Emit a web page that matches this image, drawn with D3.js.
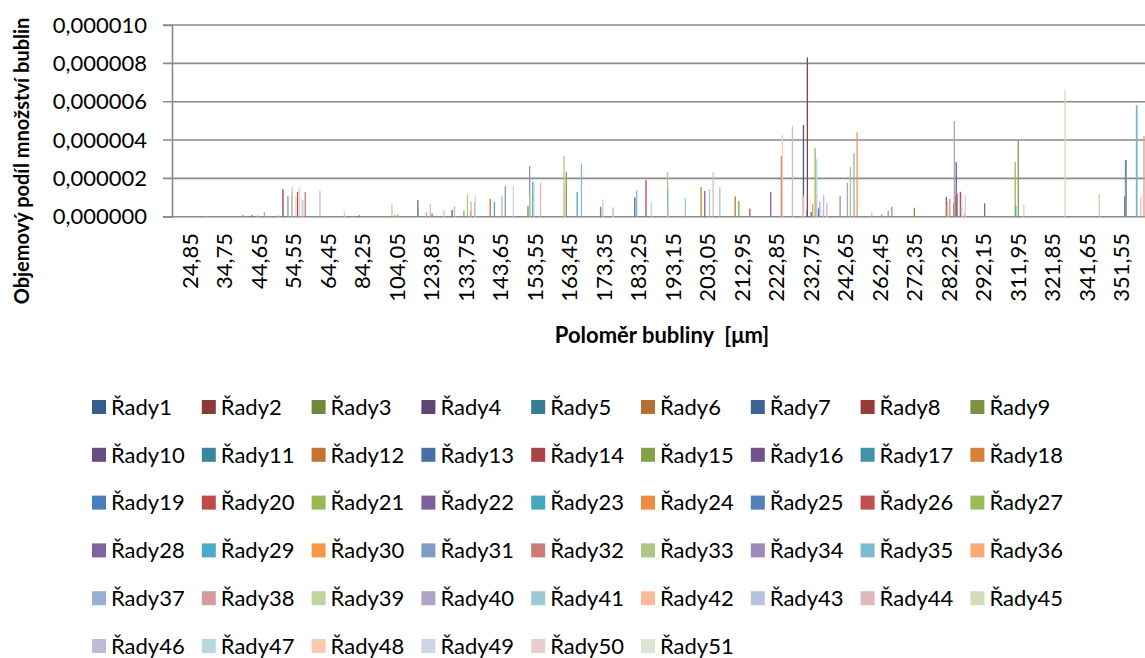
<!DOCTYPE html>
<html>
<head>
<meta charset="utf-8">
<script src="https://cdn.jsdelivr.net/npm/d3@7"></script>
<style>
  body { margin: 0; background: #fff; }
  text { font-family: Lato, "Open Sans", sans-serif; fill: #000; }
</style>
</head>
<body>
<div id="my_dataviz"></div>
<script>
// radius labels shown on the category axis (one every 10 bins)
var tickLabels = ["24,85", "34,75", "44,65", "54,55", "64,45", "84,25", "104,05", "123,85",
    "133,75", "143,65", "153,55", "163,45", "173,35", "183,25", "193,15", "203,05", "212,95",
    "222,85", "232,75", "242,65", "262,45", "272,35", "282,25", "292,15", "311,95", "321,85",
    "341,65", "351,55"];
var binsPerLabel = 10;
// the axis runs on past the right edge of the picture
var categories = d3.range(290);

var yTicks = [0, 0.000002, 0.000004, 0.000006, 0.000008, 0.00001];

var seriesNames = d3.range(1, 52).map(function (i) { return "Řady" + i; });
var seriesColors = [
    "#385D8A", "#8C3836", "#71893F", "#5C4776", "#357D91", "#B66D31",
    "#3C6494", "#953B3A", "#7A9241", "#664E82", "#3A879C", "#C3742F",
    "#4670A5", "#A64542", "#84A348", "#70538C", "#4095AB", "#D6813A",
    "#4A7EBB", "#BE4B48", "#98B954", "#7D5FA0", "#46A5C0", "#F08C42",
    "#4F81BD", "#C0504D", "#9BBB59", "#8064A2", "#4BACC6", "#F79646",
    "#7F9CC9", "#CB7B79", "#AFC686", "#9D8AB7", "#7DBBD0", "#F8AB75",
    "#9AAFD4", "#D59C9A", "#C0D3A1", "#B1A3C6", "#9DC9D7", "#F9BB98",
    "#B5C3DF", "#DFB9B8", "#CFDEB9", "#C2B9D4", "#B6D6E1", "#F9C9B0",
    "#CCD5E7", "#E7CECD", "#DBE5CF"];

// [series number, category bin, value]
var bars = [
    [45, 9, 0.05e-6], [31, 20, 0.10e-6], [14, 23, 0.08e-6], [39, 24, 0.08e-6], [40, 26, 0.23e-6],
    [39, 30, 0.10e-6], [8, 32, 1.43e-6], [31, 33, 1.08e-6], [36, 34, 1.13e-6], [43, 34, 1.53e-6],
    [49, 35, 1.04e-6], [20, 36, 1.30e-6], [48, 36, 1.53e-6], [40, 37, 0.90e-6], [49, 37, 0.87e-6],
    [32, 38, 1.29e-6], [46, 42, 1.34e-6], [50, 49, 0.30e-6], [14, 54, 0.07e-6], [39, 63, 0.66e-6],
    [30, 64, 0.10e-6], [24, 65, 0.12e-6], [13, 71, 0.87e-6], [15, 71, 0.43e-6], [38, 73, 0.23e-6],
    [44, 74, 0.66e-6], [19, 75, 0.17e-6], [42, 78, 0.35e-6], [10, 81, 0.35e-6], [46, 81, 0.56e-6],
    [31, 84, 0.31e-6], [33, 85, 1.13e-6], [27, 86, 0.31e-6], [36, 86, 0.78e-6], [40, 87, 0.78e-6],
    [49, 87, 1.13e-6], [12, 92, 0.92e-6], [23, 93, 0.78e-6], [33, 95, 1.08e-6], [31, 96, 1.60e-6],
    [49, 98, 1.60e-6], [9, 103, 0.56e-6], [34, 103, 2.64e-6], [39, 103, 1.18e-6], [29, 104, 1.83e-6],
    [47, 104, 1.83e-6], [44, 106, 1.77e-6], [33, 113, 3.17e-6], [40, 113, 1.65e-6], [48, 113, 2.00e-6],
    [15, 114, 2.35e-6], [23, 117, 1.30e-6], [35, 118, 2.78e-6], [11, 124, 0.52e-6], [12, 124, 0.40e-6],
    [47, 124, 0.90e-6], [41, 127, 0.47e-6], [50, 127, 0.49e-6], [7, 134, 1.00e-6], [35, 134, 1.36e-6],
    [20, 137, 1.91e-6], [47, 138, 0.78e-6], [33, 143, 2.33e-6], [35, 143, 1.53e-6], [42, 143, 0.57e-6],
    [41, 148, 0.97e-6], [18, 153, 1.55e-6], [22, 154, 1.34e-6], [41, 155, 1.43e-6], [44, 156, 2.31e-6],
    [41, 158, 1.53e-6], [12, 163, 1.06e-6], [15, 164, 0.82e-6], [26, 167, 0.42e-6], [28, 173, 1.30e-6],
    [32, 176, 3.17e-6], [48, 176, 4.26e-6], [43, 179, 4.73e-6], [44, 182, 1.18e-6], [50, 182, 1.04e-6],
    [1, 183, 4.78e-6], [5, 184, 0.35e-6], [8, 184, 8.31e-6], [13, 185, 0.24e-6], [38, 185, 0.66e-6],
    [36, 186, 1.13e-6], [21, 186, 3.57e-6], [47, 186, 3.00e-6], [19, 187, 0.43e-6], [40, 187, 0.77e-6],
    [39, 188, 0.35e-6], [46, 188, 1.13e-6], [43, 189, 0.71e-6], [48, 189, 0.31e-6], [34, 193, 1.08e-6],
    [40, 195, 1.77e-6], [33, 196, 2.59e-6], [35, 197, 3.32e-6], [43, 197, 0.87e-6], [30, 198, 4.40e-6],
    [44, 202, 0.20e-6], [38, 205, 0.14e-6], [31, 207, 0.30e-6], [34, 208, 0.52e-6], [9, 215, 0.47e-6],
    [22, 224, 1.03e-6], [38, 224, 0.64e-6], [42, 224, 0.78e-6], [24, 225, 0.92e-6], [29, 226, 0.70e-6],
    [40, 226, 4.99e-6], [12, 227, 1.08e-6], [16, 227, 2.85e-6], [32, 227, 1.22e-6], [26, 228, 1.30e-6],
    [44, 228, 0.60e-6], [49, 228, 1.25e-6], [38, 229, 0.17e-6], [49, 229, 1.11e-6], [50, 229, 0.24e-6],
    [28, 235, 0.70e-6], [21, 244, 2.85e-6], [29, 244, 0.57e-6], [15, 245, 4.00e-6], [48, 246, 0.66e-6],
    [45, 258, 6.61e-6], [39, 268, 1.18e-6], [10, 276, 1.06e-6], [31, 276, 2.96e-6], [19, 276, 2.94e-6],
    [27, 276, 1.81e-6], [29, 279, 5.81e-6], [35, 279, 5.81e-6], [42, 280, 1.04e-6], [38, 281, 4.21e-6]
];

var width = 1145, height = 658;
var plot = { left: 172, top: 25, bottom: 216.7, binWidth: 3.45 };

var svg = d3.select("#my_dataviz")
    .append("svg")
    .attr("width", width)
    .attr("height", height)
    .style("display", "block");

var x = d3.scaleBand()
    .domain(categories)
    .range([plot.left, plot.left + categories.length * plot.binWidth]);

// 51 series side by side inside each bin, gap width 150 %
var xSeries = d3.scaleBand()
    .domain(d3.range(1, 52))
    .range([0, x.bandwidth()])
    .paddingOuter(0.75);

var y = d3.scaleLinear().domain([0, 0.00001]).range([plot.bottom, plot.top]);

// gridlines
svg.append("g")
    .selectAll("line")
    .data(yTicks)
    .enter()
    .append("line")
    .attr("x1", plot.left - 9)
    .attr("x2", width)
    .attr("y1", function (d) { return y(d); })
    .attr("y2", function (d) { return y(d); })
    .style("stroke", "#8a8a8a")
    .style("stroke-width", 1.6);

var yAxis = d3.axisLeft(y)
    .tickValues(yTicks)
    .tickSize(9)
    .tickPadding(16)
    .tickFormat(function (d) { return d3.format(".6f")(d).replace(".", ","); });

var gy = svg.append("g")
    .attr("transform", "translate(" + plot.left + ",0)")
    .call(yAxis);
gy.select(".domain").style("stroke", "#8a8a8a").style("stroke-width", 1.6);
gy.selectAll(".tick line").remove();
gy.selectAll("text").style("font-size", "22px").style("font-family", "Lato, sans-serif");

// bars, series in drawing order
bars.sort(function (a, b) { return a[0] - b[0]; });
svg.append("g")
    .selectAll(".bar")
    .data(bars)
    .enter()
    .append("rect")
    .attr("class", "bar")
    .attr("x", function (d) { return x(d[1]) + xSeries(d[0]) - 0.6; })
    .attr("y", function (d) { return y(d[2]); })
    .attr("width", 1.3)
    .attr("height", function (d) { return plot.bottom - y(d[2]); })
    .style("fill", function (d) { return seriesColors[d[0] - 1]; });

// category labels, one per group of 10 bins
svg.append("g")
    .selectAll("text")
    .data(tickLabels)
    .enter()
    .append("text")
    .attr("transform", function (d, i) {
        var cx = x(categories[i * binsPerLabel]) + binsPerLabel / 2 * x.bandwidth() + 1;
        return "translate(" + cx + ",233) rotate(-90)";
    })
    .attr("dy", "0.35em")
    .attr("text-anchor", "end")
    .style("font-size", "22px")
    .text(function (d) { return d; });

svg.append("text")
    .attr("x", 662)
    .attr("y", 335)
    .attr("dy", "0.35em")
    .attr("text-anchor", "middle")
    .style("font-size", "22px")
    .style("font-weight", "bold")
    .style("white-space", "pre")
    .text("Poloměr bubliny  [μm]");

svg.append("text")
    .attr("transform", "translate(22,161) rotate(-90)")
    .attr("dy", "0.35em")
    .attr("text-anchor", "middle")
    .style("font-size", "20px")
    .style("font-weight", "bold")
    .text("Objemový podíl množství bublin");

// legend, 9 entries per row
var legend = svg.append("g")
    .selectAll("g")
    .data(seriesNames)
    .enter()
    .append("g")
    .attr("transform", function (d, i) {
        return "translate(" + (92 + (i % 9) * 109.8) + "," + (407 + Math.floor(i / 9) * 47.8) + ")";
    });

legend.append("rect")
    .attr("x", 0)
    .attr("y", -7)
    .attr("width", 14)
    .attr("height", 14)
    .style("fill", function (d, i) { return seriesColors[i]; });

legend.append("text")
    .attr("x", 19)
    .attr("dy", "0.35em")
    .style("font-size", "22px")
    .text(function (d) { return d; });
</script>
</body>
</html>
